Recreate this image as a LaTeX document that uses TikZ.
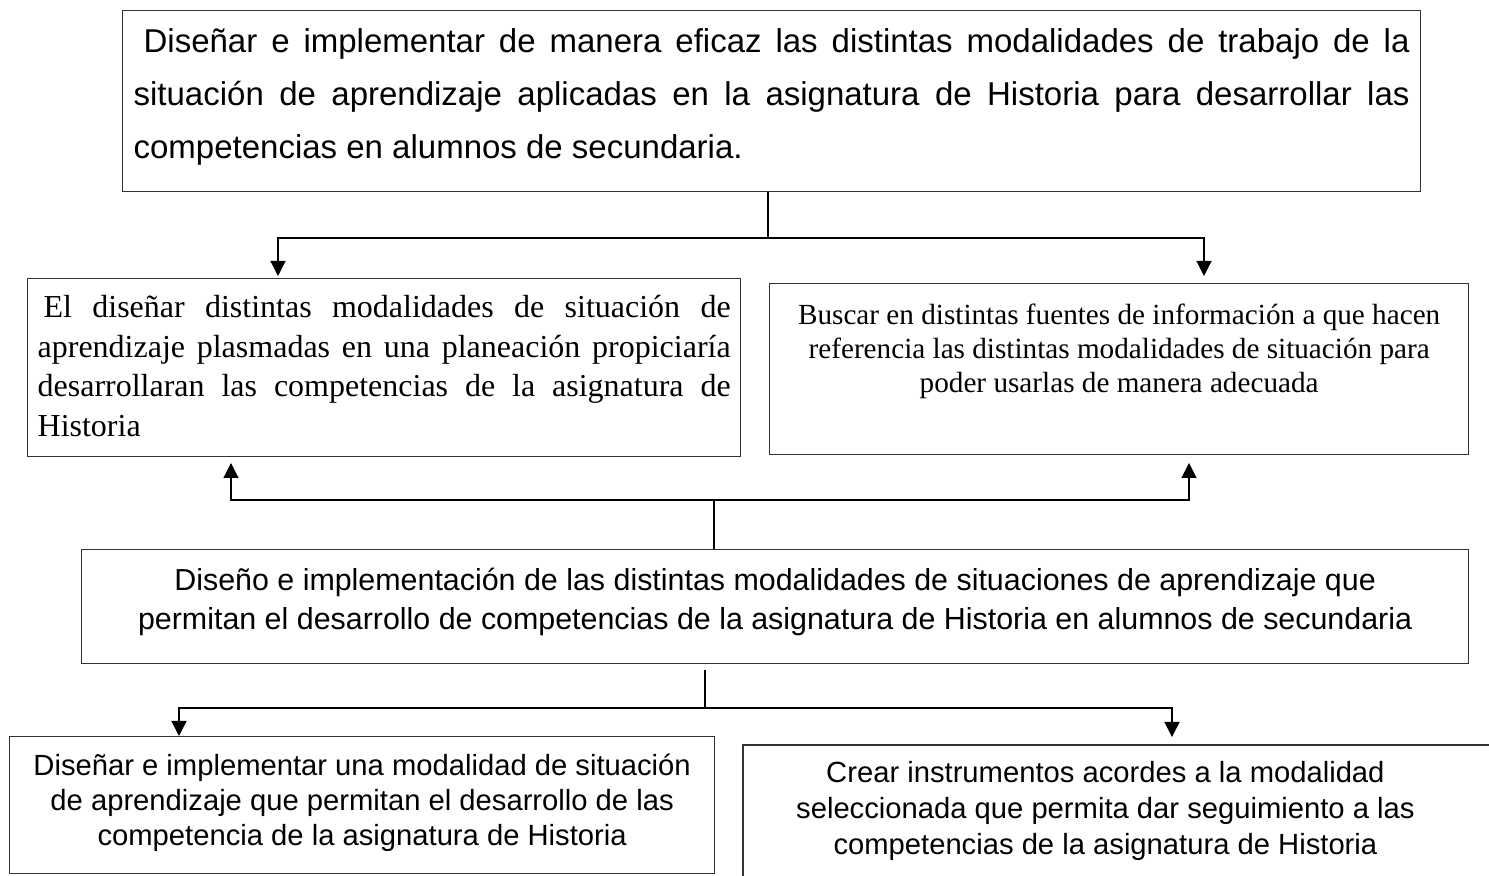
\documentclass[tikz,border=0pt]{standalone}
\usepackage{fontspec}
\setmainfont{Liberation Sans}
\newfontfamily\tnr{Liberation Serif}
\usetikzlibrary{arrows.meta}
\hyphenpenalty=10000
\exhyphenpenalty=10000
\tolerance=9999
% #1 text width, #2 box height, #3 first baseline from top, #4 content
\newcommand\bxtext[4]{\parbox[c][#2][t]{#1}{\rule{0pt}{#3}#4}}
\begin{document}
\begin{tikzpicture}[x=0.5pt,y=-0.5pt,
  box/.style={draw=black!80, line width=0.65pt, anchor=north west, inner sep=0pt},
  boxline/.style={draw=black!80, line width=0.65pt},
  conn/.style={line width=0.6pt, black},
  arr/.style={conn, -{Triangle[length=7.5pt,width=7.5pt]}}]
\useasboundingbox (0,0) rectangle (1489,876);
\clip (0,0) rectangle (1489,876);

% top box
\node[box, minimum width=649pt, minimum height=90.5pt,
  font=\fontsize{16.5}{26.5}\selectfont] (top) at (122,10)
  {\bxtext{638pt}{90.5pt}{20.85pt}{\hspace*{5pt}Diseñar e implementar de manera eficaz las distintas modalidades de trabajo de la\linebreak situación de aprendizaje aplicadas en la asignatura de Historia para desarrollar las\linebreak competencias en alumnos de secundaria.}};

% middle left
\node[box, minimum width=356.5pt, minimum height=89pt,
  font=\tnr\fontsize{16}{19.75}\selectfont] (ml) at (27,278)
  {\bxtext{346.5pt}{89pt}{19.65pt}{\hspace*{3pt}El diseñar distintas modalidades de situación de\linebreak aprendizaje plasmadas en una planeación propiciaría\linebreak desarrollaran las competencias de la asignatura de\linebreak Historia}};

% middle right
\node[box, minimum width=349.5pt, minimum height=85.5pt,
  font=\tnr\fontsize{14.6}{17}\selectfont] (mr) at (769,283)
  {\bxtext{345pt}{85.5pt}{20.6pt}{\centering Buscar en distintas fuentes de información a que hacen\\ referencia las distintas modalidades de situación para\\ poder usarlas de manera adecuada}};

% center
\node[box, minimum width=693.5pt, minimum height=57pt,
  font=\fontsize{15.2}{19.5}\selectfont] (ctr) at (81,549)
  {\bxtext{690pt}{57pt}{20.5pt}{\centering Diseño e implementación de las distintas modalidades de situaciones de aprendizaje que\\ permitan el desarrollo de competencias de la asignatura de Historia en alumnos de secundaria}};

% bottom left
\node[box, minimum width=352.5pt, minimum height=68.5pt,
  font=\fontsize{14.6}{17.5}\selectfont] (bl) at (9,736)
  {\bxtext{350pt}{68.5pt}{19.5pt}{\centering Diseñar e implementar una modalidad de situación\\ de aprendizaje que permitan el desarrollo de las\\ competencia de la asignatura de Historia}};

% bottom right (cut by the picture edge)
\node[anchor=north west, inner sep=0pt, minimum width=362pt, minimum height=75pt,
  font=\fontsize{14.6}{18}\selectfont] (br) at (743,745)
  {\bxtext{360pt}{75pt}{18.35pt}{\centering Crear instrumentos acordes a la modalidad\\ seleccionada que permita dar seguimiento a las\\ competencias de la asignatura de Historia}};
\coordinate (brtr) at (1510,745);
\draw[boxline] (br.south west) -- (br.north west) -- (brtr);

% connectors: top -> middle boxes
\coordinate (j1) at (768,238);
\coordinate (t1) at (278,276);
\coordinate (t2) at (1204,276);
\draw[conn] (top.south -| j1) -- (j1);
\draw[arr] (j1) -| (t1);
\draw[arr] (j1) -| (t2);

% connectors: center -> middle boxes (upwards)
\coordinate (j2) at (714,500);
\coordinate (u1) at (231,463);
\coordinate (u2) at (1189,463);
\draw[conn] (ctr.north -| j2) -- (j2);
\draw[arr] (j2) -| (u1);
\draw[arr] (j2) -| (u2);

% connectors: center -> bottom boxes
\coordinate (j3) at (705,708);
\coordinate (d1) at (179,736);
\coordinate (d2) at (1172,737);
\draw[conn, shorten <=3pt] (ctr.south -| j3) -- (j3);
\draw[arr] (j3) -| (d1);
\draw[arr] (j3) -| (d2);
\end{tikzpicture}
\end{document}
